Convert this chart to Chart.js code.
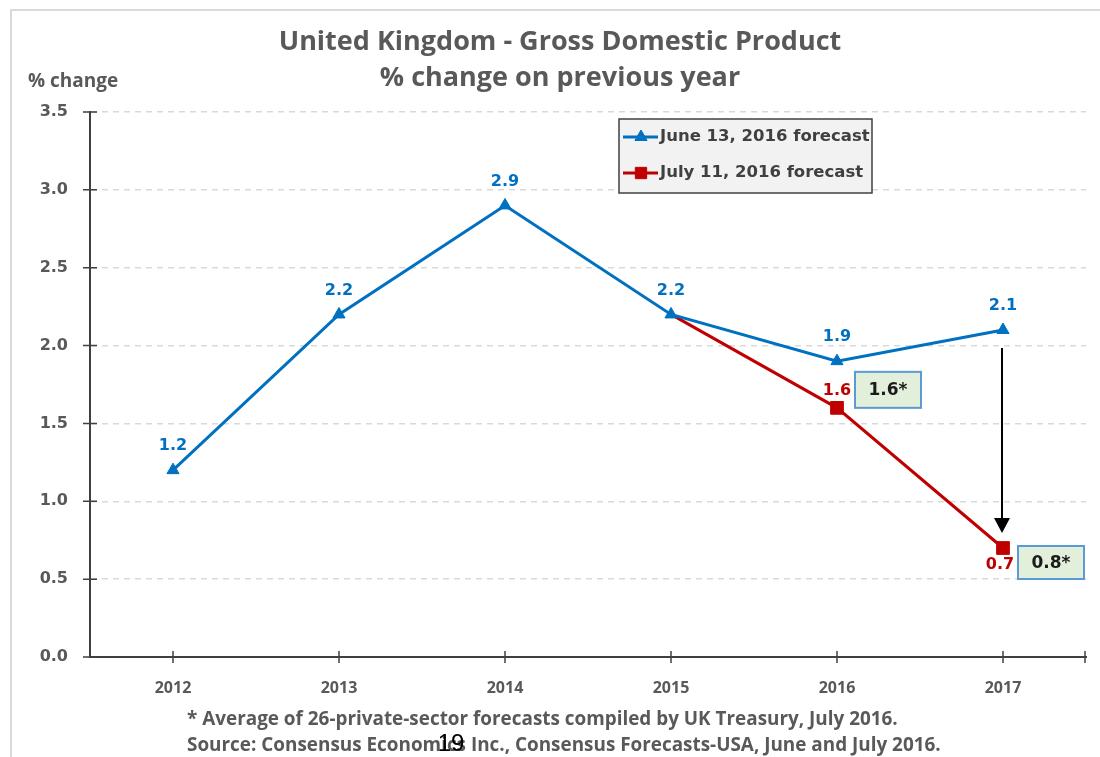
<!DOCTYPE html>
<html lang="en">
<head>
  <meta charset="UTF-8">
  <title>United Kingdom - Gross Domestic Product</title>
  <script src="https://cdn.jsdelivr.net/npm/chart.js"></script>
  <style>
    body { margin: 0; background: #fff; }
    #wrap { position: relative; width: 1100px; height: 757px; }
  </style>
</head>
<body>
  <div id="wrap"><canvas id="gdp-chart"></canvas></div>

  <script>
    // chart data
    const years = ['2012', '2013', '2014', '2015', '2016', '2017'];
    const juneForecast = [1.2, 2.2, 2.9, 2.2, 1.9, 2.1];
    const julyForecast = [null, null, null, 2.2, 1.6, 0.7];
    const treasuryAverage = [null, null, null, null, 1.6, 0.8];
    const yTickValues = [0, 0.5, 1, 1.5, 2, 2.5, 3, 3.5];
    const seriesNames = ['June 13, 2016 forecast', 'July 11, 2016 forecast'];

    const BLUE = '#0070c0';
    const RED = '#c00000';
    const GREY_TEXT = '#595959';
    const AXIS = '#404040';
    const CALIBRI = '"Open Sans", "Noto Sans", sans-serif';
    const VERDANA = '"DejaVu Sans", Verdana, sans-serif';

    function text(ctx, str, x, y, font, color, align) {
      ctx.font = font;
      ctx.fillStyle = color;
      ctx.textAlign = align || 'left';
      ctx.textBaseline = 'middle';
      ctx.fillText(str, x, y);
    }

    // light grey frame behind everything
    const framePlugin = {
      id: 'frame',
      beforeDraw(chart) {
        const ctx = chart.ctx;
        ctx.save();
        ctx.strokeStyle = '#d9d9d9';
        ctx.lineWidth = 2;
        ctx.beginPath();
        ctx.moveTo(11, chart.height);
        ctx.lineTo(11, 10);
        ctx.lineTo(chart.width, 10);
        ctx.stroke();
        ctx.restore();
      }
    };

    // tick marks that cross the axis lines, like the Excel original
    const crossTicksPlugin = {
      id: 'crossTicks',
      afterDraw(chart) {
        const ctx = chart.ctx;
        const x = chart.scales.x, y = chart.scales.y;
        const area = chart.chartArea;
        ctx.save();
        ctx.strokeStyle = AXIS;
        ctx.lineWidth = 1.5;
        ctx.beginPath();
        yTickValues.forEach(v => {
          const py = y.getPixelForValue(v);
          ctx.moveTo(area.left - 7, py);
          ctx.lineTo(area.left + 7, py);
        });
        years.forEach((_, i) => {
          const px = x.getPixelForValue(i);
          ctx.moveTo(px, area.bottom - 6);
          ctx.lineTo(px, area.bottom + 6);
        });
        ctx.moveTo(area.right - 1, area.bottom - 6);
        ctx.lineTo(area.right - 1, area.bottom + 6);
        ctx.stroke();
        ctx.restore();
      }
    };

    // value labels, treasury boxes and the arrow
    const labelsPlugin = {
      id: 'valueLabels',
      afterDatasetsDraw(chart) {
        const ctx = chart.ctx;
        const x = chart.scales.x, y = chart.scales.y;
        ctx.save();
        const font = 'bold 16px ' + VERDANA;

        juneForecast.forEach((v, i) => {
          text(ctx, v.toFixed(1), x.getPixelForValue(i), y.getPixelForValue(v) - 24, font, BLUE, 'center');
        });
        // red labels: 2016 above the point, 2017 below it (2015 shares the blue one)
        const redOffset = { 4: -17, 5: 17 };
        julyForecast.forEach((v, i) => {
          if (v === null || redOffset[i] === undefined) return;
          text(ctx, v.toFixed(1), x.getPixelForValue(i) - (i === 5 ? 3 : 0), y.getPixelForValue(v) + redOffset[i], font, RED, 'center');
        });

        // arrow from June to July forecast for 2017
        const last = years.length - 1;
        const ax = x.getPixelForValue(last) - 1;
        const y1 = y.getPixelForValue(juneForecast[last]) + 18;
        const y2 = y.getPixelForValue(julyForecast[last]) - 15;
        ctx.strokeStyle = '#000';
        ctx.fillStyle = '#000';
        ctx.lineWidth = 2;
        ctx.beginPath();
        ctx.moveTo(ax, y1);
        ctx.lineTo(ax, y2 - 12);
        ctx.stroke();
        ctx.beginPath();
        ctx.moveTo(ax, y2);
        ctx.lineTo(ax - 8, y2 - 15);
        ctx.lineTo(ax + 8, y2 - 15);
        ctx.closePath();
        ctx.fill();

        // boxes with the UK Treasury average
        const boxPos = { 4: { dx: 18, dy: -36, h: 36 }, 5: { dx: 15, dy: -2, h: 33 } };
        treasuryAverage.forEach((v, i) => {
          if (v === null) return;
          const p = boxPos[i];
          const bx = x.getPixelForValue(i) + p.dx;
          const by = y.getPixelForValue(julyForecast[i]) + p.dy;
          ctx.fillStyle = '#e2efda';
          ctx.fillRect(bx, by, 66, p.h);
          ctx.strokeStyle = '#5b9bd5';
          ctx.lineWidth = 2;
          ctx.strokeRect(bx, by, 66, p.h);
          text(ctx, v.toFixed(1) + '*', bx + 33, by + p.h / 2 + 1, 'bold 17px ' + VERDANA, '#1a1a1a', 'center');
        });
        ctx.restore();
      }
    };

    // legend box, titles and footnotes
    const textPlugin = {
      id: 'chartTexts',
      afterDraw(chart) {
        const ctx = chart.ctx;
        ctx.save();

        // legend
        const lx = 619, ly = 119, lw = 253, lh = 74;
        ctx.fillStyle = '#f2f2f2';
        ctx.fillRect(lx, ly, lw, lh);
        ctx.strokeStyle = AXIS;
        ctx.lineWidth = 1.5;
        ctx.strokeRect(lx, ly, lw, lh);
        chart.data.datasets.forEach((ds, i) => {
          const rowY = ly + 18 + i * 36;
          ctx.strokeStyle = ds.borderColor;
          ctx.fillStyle = ds.borderColor;
          ctx.lineWidth = 3;
          ctx.beginPath();
          ctx.moveTo(lx + 4, rowY);
          ctx.lineTo(lx + 39, rowY);
          ctx.stroke();
          ctx.lineWidth = 1;
          Chart.helpers.drawPoint(ctx, { pointStyle: ds.pointStyle, radius: ds.legendRadius, rotation: 0, borderWidth: 1 }, lx + 22, rowY);
          text(ctx, ds.label, lx + 41, rowY, 'bold 16.5px ' + VERDANA, AXIS);
        });

        // titles
        text(ctx, 'United Kingdom - Gross Domestic Product', 560, 42, 'bold 27px ' + CALIBRI, GREY_TEXT, 'center');
        text(ctx, '% change on previous year', 560, 78, 'bold 27px ' + CALIBRI, GREY_TEXT, 'center');
        text(ctx, '% change', 28, 82, 'bold 19px ' + CALIBRI, GREY_TEXT);

        // footnotes
        text(ctx, '* Average of 26-private-sector forecasts compiled by UK Treasury, July 2016.', 187, 720, 'bold 18.9px ' + CALIBRI, GREY_TEXT);
        text(ctx, 'Source: Consensus Economics Inc., Consensus Forecasts-USA, June and July 2016.', 187, 746, 'bold 18.9px ' + CALIBRI, GREY_TEXT);
        text(ctx, '19', 451, 744, '24px "Liberation Sans", Arial, sans-serif', '#000', 'center');
        ctx.restore();
      }
    };

    const ctx = document.getElementById('gdp-chart').getContext('2d');
    new Chart(ctx, {
      type: 'line',
      data: {
        labels: years,
        datasets: [
          {
            label: seriesNames[0],
            data: juneForecast,
            borderColor: BLUE,
            backgroundColor: BLUE,
            borderWidth: 3,
            pointStyle: 'triangle',
            pointRadius: 7,
            pointBorderWidth: 1,
            legendRadius: 7,
            tension: 0
          },
          {
            label: seriesNames[1],
            data: julyForecast,
            borderColor: RED,
            backgroundColor: RED,
            borderWidth: 3,
            pointStyle: 'rect',
            pointRadius: ctx2 => ctx2.dataIndex < 4 ? 0 : 9,
            pointBorderWidth: 1,
            legendRadius: 8,
            tension: 0
          }
        ]
      },
      options: {
        responsive: true,
        maintainAspectRatio: false,
        animation: false,
        layout: { padding: { left: 10, top: 112, right: 14, bottom: 0 } },
        plugins: {
          legend: { display: false },
          title: { display: false },
          tooltip: { enabled: false }
        },
        scales: {
          x: {
            offset: true,
            grid: { display: false, drawTicks: false },
            border: { display: true, color: AXIS, width: 2 },
            ticks: {
              padding: 22,
              color: GREY_TEXT,
              font: { family: CALIBRI, size: 16, weight: 'bold' }
            },
            afterFit(scale) { scale.height = 100; }
          },
          y: {
            min: 0,
            max: 3.5,
            afterBuildTicks(scale) { scale.ticks = yTickValues.map(v => ({ value: v })); },
            grid: { color: '#d9d9d9', lineWidth: 1.5, drawTicks: false },
            border: { display: true, color: AXIS, width: 2, dash: [6, 5] },
            ticks: {
              padding: 22,
              color: GREY_TEXT,
              font: { family: VERDANA, size: 16, weight: 'bold' },
              callback: v => v.toFixed(1)
            },
            afterFit(scale) { scale.width = 80; }
          }
        }
      },
      plugins: [framePlugin, crossTicksPlugin, labelsPlugin, textPlugin]
    });
  </script>
</body>
</html>
